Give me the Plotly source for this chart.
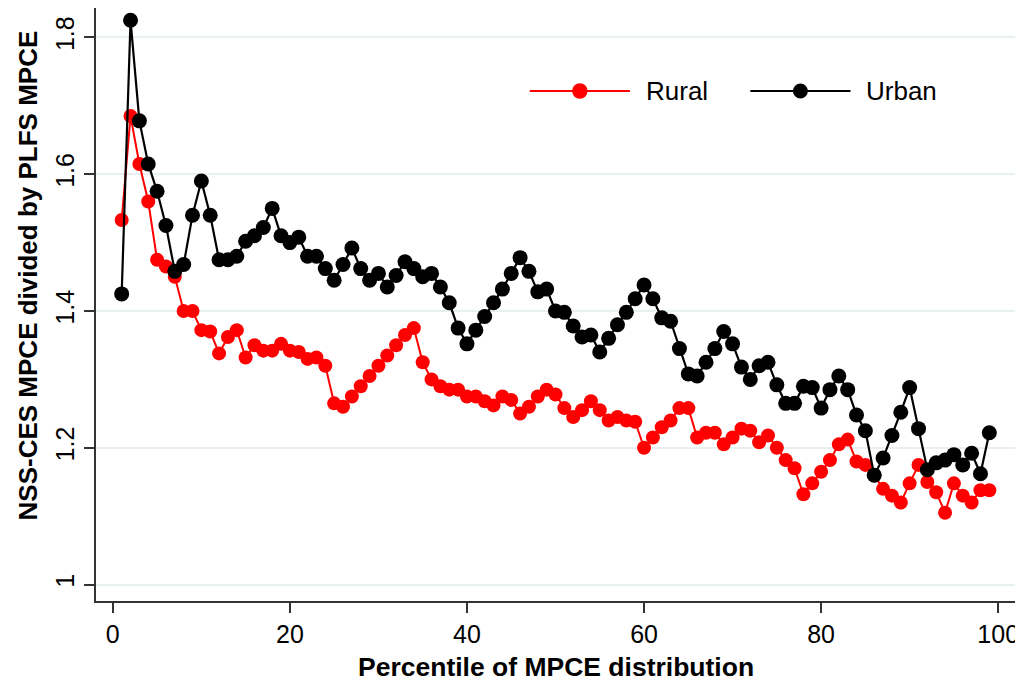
import plotly.graph_objects as go

# Percentiles 1..99
percentile = list(range(1, 100))

rural = [
    1.533, 1.685, 1.615, 1.560, 1.475, 1.465, 1.450, 1.400, 1.400, 1.372,
    1.370, 1.338, 1.362, 1.372, 1.332, 1.350, 1.342, 1.342, 1.352, 1.342,
    1.340, 1.330, 1.332, 1.320, 1.265, 1.260, 1.275, 1.290, 1.305, 1.320,
    1.335, 1.350, 1.365, 1.375, 1.325, 1.300, 1.290, 1.285, 1.285, 1.275,
    1.275, 1.268, 1.262, 1.275, 1.270, 1.250, 1.260, 1.275, 1.285, 1.278,
    1.258, 1.245, 1.255, 1.268, 1.255, 1.240, 1.245, 1.240, 1.238, 1.200,
    1.215, 1.230, 1.240, 1.258, 1.258, 1.215, 1.222, 1.222, 1.205, 1.215,
    1.228, 1.225, 1.208, 1.218, 1.200, 1.182, 1.170, 1.132, 1.148, 1.165,
    1.182, 1.205, 1.212, 1.180, 1.175, 1.160, 1.140, 1.130, 1.120, 1.148,
    1.175, 1.150, 1.135, 1.105, 1.148, 1.130, 1.120, 1.138, 1.138,
]

urban = [
    1.425, 1.825, 1.678, 1.615, 1.575, 1.525, 1.458, 1.468, 1.540, 1.590,
    1.540, 1.475, 1.475, 1.480, 1.502, 1.510, 1.522, 1.550, 1.510, 1.500,
    1.508, 1.480, 1.480, 1.462, 1.445, 1.468, 1.492, 1.462, 1.445, 1.455,
    1.435, 1.452, 1.472, 1.462, 1.450, 1.455, 1.435, 1.412, 1.375, 1.352,
    1.372, 1.392, 1.412, 1.432, 1.455, 1.478, 1.458, 1.428, 1.432, 1.400,
    1.398, 1.378, 1.362, 1.365, 1.340, 1.360, 1.380, 1.398, 1.418, 1.438,
    1.418, 1.390, 1.385, 1.345, 1.308, 1.305, 1.325, 1.345, 1.370, 1.352,
    1.318, 1.300, 1.320, 1.325, 1.292, 1.265, 1.265, 1.290, 1.288, 1.258,
    1.285, 1.305, 1.285, 1.248, 1.225, 1.160, 1.185, 1.218, 1.252, 1.288,
    1.228, 1.168, 1.178, 1.182, 1.190, 1.175, 1.192, 1.162, 1.222,
]

x_ticks = [0, 20, 40, 60, 80, 100]
y_ticks = [1, 1.2, 1.4, 1.6, 1.8]

FONT = "Arial, Liberation Sans, sans-serif"
RED = "#ff0000"
BLACK = "#000000"

fig = go.Figure()

fig.add_trace(go.Scatter(
    x=percentile, y=rural, mode="lines+markers", name="Rural",
    line=dict(color=RED, width=2),
    marker=dict(color=RED, size=14),
))
fig.add_trace(go.Scatter(
    x=percentile, y=urban, mode="lines+markers", name="Urban",
    line=dict(color=BLACK, width=2.2),
    marker=dict(color=BLACK, size=15),
))

axis_common = dict(
    showline=True, linecolor="#333333", linewidth=2,
    ticks="outside", ticklen=10, tickwidth=1.5, tickcolor="#333333",
    tickfont=dict(family=FONT, size=25, color=BLACK),
    zeroline=False, automargin=False,
)

fig.update_xaxes(range=[-1.9, 101.9], tickvals=x_ticks, showgrid=False, **axis_common)
fig.update_yaxes(
    range=[0.976, 1.843], tickvals=y_ticks, tickangle=-90,
    showgrid=True, gridcolor="#e8f0f2", gridwidth=1.5,
    **axis_common,
)

# axis titles
fig.add_annotation(
    text="<b>Percentile of MPCE distribution</b>",
    xref="paper", yref="paper", x=0.5, y=0, yshift=-66,
    xanchor="center", yanchor="middle", showarrow=False,
    font=dict(family=FONT, size=26.5, color=BLACK),
)
fig.add_annotation(
    text="<b>NSS-CES MPCE divided by PLFS MPCE</b>",
    xref="paper", yref="paper", x=0, y=0.549, xshift=-68, textangle=-90,
    xanchor="center", yanchor="middle", showarrow=False,
    font=dict(family=FONT, size=26, color=BLACK),
)

# legend drawn by hand so the key lines can be as long as in the original
def legend_item(x_line0, x_line1, y, color, label, msize):
    fig.add_shape(type="line", xref="paper", yref="paper",
                  x0=x_line0, x1=x_line1, y0=y, y1=y,
                  line=dict(color=color, width=2))
    xm = (x_line0 + x_line1) / 2
    fig.add_shape(type="circle", xref="paper", yref="paper",
                  xsizemode="pixel", ysizemode="pixel",
                  xanchor=xm, yanchor=y,
                  x0=-msize / 2, x1=msize / 2, y0=-msize / 2, y1=msize / 2,
                  fillcolor=color, line=dict(color=color, width=0))
    fig.add_annotation(text=label, xref="paper", yref="paper",
                       x=x_line1, xshift=14, y=y, xanchor="left", yanchor="middle",
                       showarrow=False, font=dict(family=FONT, size=26, color=BLACK))

legend_item(0.472, 0.581, 0.86, RED, "Rural", 15.5)
legend_item(0.712, 0.821, 0.86, BLACK, "Urban", 15)

# the page puts the figure 8px in from the top-left corner, so the
# figure is 8px smaller each way to keep the plot where it belongs
fig.update_layout(
    width=1015, height=673,
    margin=dict(l=88, r=8, t=0, b=80),
    plot_bgcolor="white", paper_bgcolor="white",
    showlegend=False,
)

fig.write_html("out.html")
